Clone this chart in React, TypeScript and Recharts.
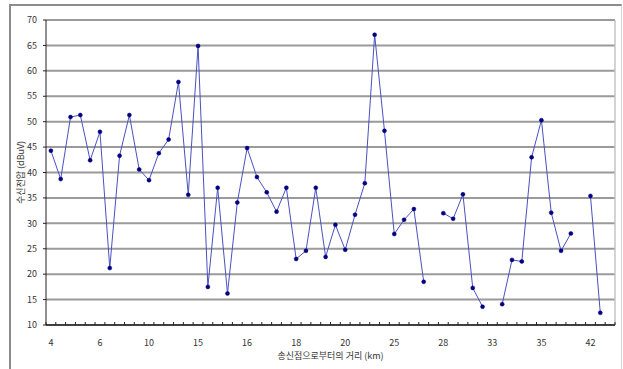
import React from "react";
import {
  CartesianGrid,
  Line,
  LineChart,
  ReferenceLine,
  XAxis,
  YAxis,
} from "recharts";

// distance labels shown under every 5th measuring point (km)
const KM_LABELS = ["4", "6", "10", "15", "16", "18", "20", "25", "28", "33", "35", "42"];

// received field strength per measuring point (dBuV), null = not measured
const FIELD_STRENGTH: (number | null)[] = [
  44.3, 38.7, 50.9, 51.3, 42.4, 48.0, 21.2, 43.3, 51.3, 40.6,
  38.5, 43.8, 46.5, 57.8, 35.6, 64.9, 17.5, 37.0, 16.2, 34.1,
  44.8, 39.1, 36.1, 32.3, 37.0, 23.0, 24.6, 37.0, 23.4, 29.7,
  24.8, 31.7, 37.9, 67.1, 48.2, 27.9, 30.7, 32.8, 18.5, null,
  32.0, 30.9, 35.7, 17.3, 13.6, null, 14.1, 22.8, 22.5, 43.0,
  50.3, 32.1, 24.6, 28.0, null, 35.4, 12.4, null,
];

const Y_TICKS = [10, 15, 20, 25, 30, 35, 40, 45, 50, 55, 60, 65, 70];

const FONT = "'Noto Sans CJK KR', 'Noto Sans', sans-serif";
const tickStyle = { fill: "#333", fontSize: 9, fontFamily: FONT };

const data = FIELD_STRENGTH.map((v, i) => ({ idx: i, dbuv: v }));
const last = FIELD_STRENGTH.length - 0.5;
const boundaryTicks = FIELD_STRENGTH.map((_, i) => i - 0.5).concat(last);
const labelTicks = KM_LABELS.map((_, i) => i * 5);

export default function App() {
  return (
    <div
      style={{
        position: "absolute",
        left: 0,
        top: 0,
        width: 623,
        height: 369,
        overflow: "hidden",
        background: "#fff",
      }}
    >
      <div
        style={{
          position: "absolute",
          left: 9,
          top: 4,
          width: 610,
          height: 370,
          borderTop: "2px solid #8c8c8c",
          borderLeft: "2px solid #8c8c8c",
          borderRight: "1px solid #d4d4d4",
        }}
      />
      <LineChart
        width={623}
        height={369}
        data={data}
        margin={{ top: 20, right: 8, left: 0, bottom: 10 }}
        style={{ position: "absolute", left: 0, top: 0 }}
      >
        <CartesianGrid
          xAxisId="km"
          vertical={false}
          stroke="#9a9a9a"
          strokeWidth={2}
        />
        <YAxis
          type="number"
          domain={[10, 70]}
          ticks={Y_TICKS}
          interval={0}
          width={46}
          tick={tickStyle}
          tickSize={3}
          tickMargin={6}
          axisLine={{ stroke: "#222" }}
          tickLine={{ stroke: "#222" }}
          label={{
            value: "수신전압 (dBuV)",
            angle: -90,
            position: "center",
            dx: -2,
            style: { fill: "#333", fontSize: 9, fontFamily: FONT },
          }}
        />
        {/* tick marks between categories, pointing into the plot */}
        <XAxis
          xAxisId="bounds"
          type="number"
          dataKey="idx"
          domain={[-0.5, last]}
          ticks={boundaryTicks}
          interval={0}
          mirror
          tickSize={3}
          tickFormatter={() => ""}
          axisLine={{ stroke: "#222", strokeWidth: 1.5 }}
          tickLine={{ stroke: "#222" }}
        />
        <XAxis
          xAxisId="km"
          type="number"
          dataKey="idx"
          domain={[-0.5, last]}
          ticks={labelTicks}
          interval={0}
          height={34}
          tickSize={0}
          tickMargin={15}
          axisLine={false}
          tickLine={false}
          tick={tickStyle}
          tickFormatter={(v: number) => KM_LABELS[v / 5] ?? ""}
          label={{
            value: "송신점으로부터의 거리 (km)",
            position: "insideBottom",
            offset: 0,
            style: { fill: "#333", fontSize: 9, fontFamily: FONT },
          }}
        />
        <ReferenceLine xAxisId="km" x={last} stroke="#c4c4c4" strokeWidth={1.5} />
        <Line
          xAxisId="km"
          type="linear"
          dataKey="dbuv"
          stroke="#4a50c0"
          strokeWidth={1}
          connectNulls={false}
          dot={{ r: 2, fill: "#000080", stroke: "#000080", strokeWidth: 0.5 }}
          activeDot={false}
          isAnimationActive={false}
        />
      </LineChart>
    </div>
  );
}
